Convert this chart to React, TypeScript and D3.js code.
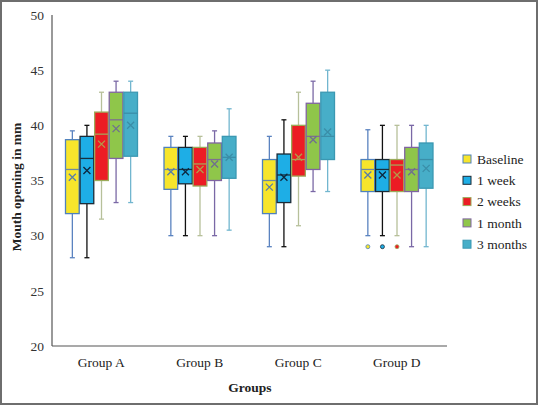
import React from "react";
import * as d3 from "d3";

const groups = ["Group A", "Group B", "Group C", "Group D"];
const seriesNames = ["Baseline", "1 week", "2 weeks", "1 month", "3 months"];
const yTicks = [20, 25, 30, 35, 40, 45, 50];

// per group: [whiskerLow, q1, median, q3, whiskerHigh, mean]
const baselineStats = [
  [28.0, 32.0, 36.0, 38.7, 39.5, 35.3],
  [30.0, 34.2, 36.0, 38.0, 39.0, 35.8],
  [29.0, 32.0, 35.0, 36.9, 39.0, 34.4],
  [30.0, 34.0, 36.0, 36.9, 39.6, 35.5],
];
const week1Stats = [
  [28.0, 32.9, 37.0, 39.0, 40.0, 35.9],
  [30.0, 34.7, 36.0, 38.0, 39.0, 35.8],
  [29.0, 33.0, 35.5, 37.4, 40.5, 35.3],
  [30.0, 34.0, 36.0, 36.9, 40.0, 35.5],
];
const weeks2Stats = [
  [31.5, 35.0, 39.2, 41.2, 43.0, 38.3],
  [30.0, 34.5, 36.5, 38.0, 39.0, 36.0],
  [30.9, 35.4, 36.9, 40.0, 43.0, 37.1],
  [30.0, 34.0, 36.4, 36.9, 40.0, 35.5],
];
const month1Stats = [
  [33.0, 37.0, 40.5, 43.0, 44.0, 39.7],
  [30.0, 35.0, 36.9, 38.4, 39.5, 36.5],
  [34.0, 36.0, 39.0, 42.0, 44.0, 38.7],
  [29.0, 34.0, 36.0, 38.0, 40.0, 35.8],
];
const months3Stats = [
  [33.0, 37.2, 41.1, 43.0, 44.0, 40.0],
  [30.5, 35.2, 37.1, 39.0, 41.5, 37.1],
  [34.0, 36.9, 39.0, 43.0, 45.0, 39.4],
  [29.0, 34.3, 36.9, 38.4, 40.0, 36.1],
];
// outliers per series, per group
const baselineOutliers = [[], [], [], [29.0]];
const week1Outliers = [[], [], [], [29.0]];
const weeks2Outliers = [[], [], [], [29.0]];
const month1Outliers = [[], [], [], []];
const months3Outliers = [[], [], [], []];

const fills = ["#f7e52b", "#1eaee6", "#ec1c24", "#8fc64a", "#47aec8"];
const boxStrokes = ["#4f81bd", "#1b2a36", "#9bab5a", "#8064a2", "#3b98b2"];
const whiskerColors = ["#5b83c0", "#111111", "#b7c09a", "#7a68a6", "#72b6cf"];
const medianColors = ["#6f8aa0", "#16303f", "#a8a35a", "#7f6f90", "#3a8ea8"];
const meanColors = ["#5a7ea8", "#0d2840", "#b49a4a", "#6f6f8f", "#3a8ea8"];

const allStats = [baselineStats, week1Stats, weeks2Stats, month1Stats, months3Stats];
const allOutliers = [baselineOutliers, week1Outliers, weeks2Outliers, month1Outliers, months3Outliers];

export default function App() {
  const W = 538, H = 405;
  const x = d3.scaleBand().domain(groups).range([52, 446]);
  const inner = d3.scaleBand().domain(seriesNames).range([13.5, 85.5]).paddingInner(0.06);
  const y = d3.scaleLinear().domain([20, 50]).range([346, 15]);
  const font = "'Liberation Serif', 'Times New Roman', serif";
  const bw = inner.bandwidth();

  return (
    <svg width={W} height={H} style={{ position: "absolute", left: 0, top: 0, background: "#fff" }} fontFamily={font}>
      <rect x={1} y={1} width={W - 2} height={H - 2} fill="#fff" stroke="#6e6e6e" strokeWidth={2} />
      {/* axes */}
      <line x1={52} x2={52} y1={y(50)} y2={y(20)} stroke="#555" strokeWidth={1.2} />
      <line x1={52} x2={447} y1={y(20)} y2={y(20)} stroke="#555" strokeWidth={1.2} />
      {yTicks.map((t) => (
        <text key={t} x={44} y={y(t)} dy="0.35em" textAnchor="end" fontSize={13.5} fill="#333">
          {t}
        </text>
      ))}
      {groups.map((g) => (
        <text key={g} x={(x(g) as number) + x.bandwidth() / 2} y={367} textAnchor="middle" fontSize={13.5} fill="#222">
          {g}
        </text>
      ))}
      <text x={250} y={392} textAnchor="middle" fontSize={13.5} fontWeight="bold" fill="#222">
        Groups
      </text>
      <text transform="translate(21,187) rotate(-90)" textAnchor="middle" fontSize={13.5} fontWeight="bold" fill="#222">
        Mouth opening in mm
      </text>
      {/* boxes */}
      {seriesNames.map((s, si) =>
        groups.map((g, gi) => {
          const [lo, q1, med, q3, hi, mean] = allStats[si][gi];
          const x0 = (x(g) as number) + (inner(s) as number);
          const cx = x0 + bw / 2;
          return (
            <g key={s + g}>
              <line x1={cx} x2={cx} y1={y(hi)} y2={y(q3)} stroke={whiskerColors[si]} strokeWidth={1.3} />
              <line x1={cx} x2={cx} y1={y(q1)} y2={y(lo)} stroke={whiskerColors[si]} strokeWidth={1.3} />
              <line x1={cx - 2.5} x2={cx + 2.5} y1={y(hi)} y2={y(hi)} stroke={whiskerColors[si]} strokeWidth={1.3} />
              <line x1={cx - 2.5} x2={cx + 2.5} y1={y(lo)} y2={y(lo)} stroke={whiskerColors[si]} strokeWidth={1.3} />
              <rect x={x0} y={y(q3)} width={bw} height={y(q1) - y(q3)} fill={fills[si]} stroke={boxStrokes[si]} strokeWidth={1.3} />
              <line x1={x0} x2={x0 + bw} y1={y(med)} y2={y(med)} stroke={medianColors[si]} strokeWidth={1.3} />
              <path
                d={`M${cx - 3.5},${y(mean) - 3.5}L${cx + 3.5},${y(mean) + 3.5}M${cx + 3.5},${y(mean) - 3.5}L${cx - 3.5},${y(mean) + 3.5}`}
                stroke={meanColors[si]}
                strokeWidth={1.3}
                fill="none"
              />
              {allOutliers[si][gi].map((o, oi) => (
                <circle key={oi} cx={cx} cy={y(o)} r={2} fill={fills[si]} stroke={boxStrokes[si]} strokeWidth={0.8} />
              ))}
            </g>
          );
        })
      )}
      {/* legend */}
      {seriesNames.map((s, i) => {
        const ly = 159 + i * 21.3;
        return (
          <g key={s}>
            <rect x={463} y={ly - 4} width={8} height={8} fill={fills[i]} stroke={boxStrokes[i]} strokeWidth={1} />
            <text x={477} y={ly} dy="0.35em" fontSize={13.5} fill="#222">
              {s}
            </text>
          </g>
        );
      })}
    </svg>
  );
}
